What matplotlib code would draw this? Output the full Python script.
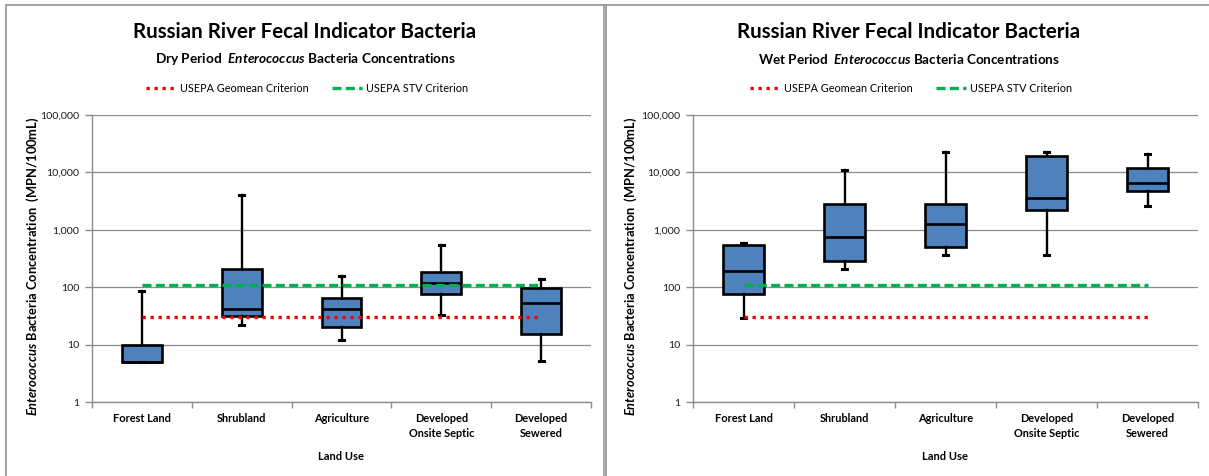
import matplotlib
matplotlib.use("Agg")
import matplotlib.pyplot as plt
from matplotlib.lines import Line2D
from matplotlib.ticker import FixedLocator, FuncFormatter, NullFormatter

# ---------------- data ----------------
categories = ["Forest Land", "Shrubland", "Agriculture",
              "Developed\nOnsite Septic", "Developed\nSewered"]

dry_min = [5, 22, 12, 33, 5.2]
dry_q1 = [5, 32, 20, 76, 15]
dry_med = [5, 42, 42, 120, 54]
dry_q3 = [10, 205, 64, 187, 96]
dry_max = [86, 4000, 159, 535, 139]

wet_min = [29.5, 210, 359, 369, 2560]
wet_q1 = [77, 282, 495, 2210, 4810]
wet_med = [192, 739, 1245, 3580, 6450]
wet_q3 = [536, 2780, 2780, 19600, 12100]
wet_max = [589, 10900, 22400, 23000, 21200]

geomean_criterion = 30
stv_criterion = 110

y_ticks = [1, 10, 100, 1000, 10000, 100000]

# ---------------- style ----------------
FONT = "Lato"
plt.rcParams["font.family"] = [FONT, "DejaVu Sans"]
plt.rcParams["mathtext.fontset"] = "custom"
plt.rcParams["mathtext.it"] = FONT + ":italic:bold"
plt.rcParams["mathtext.rm"] = FONT + ":bold"
plt.rcParams["mathtext.bf"] = FONT + ":bold"

W, H = 1209, 476
fig = plt.figure(figsize=(W / 100, H / 100), dpi=100)
fig.patch.set_facecolor("white")
renderer = fig.canvas.get_renderer()

BOX_FILL = "#4F81BD"
GRID = "#8C8C8C"
RED = "#FF0000"
GREEN = "#00B050"
BORDER = "#9A9A9A"


def fx(px):
    return px / W


def fy(py):
    return 1 - py / H


def fit_width(t, target):
    for _ in range(3):
        w = t.get_window_extent(renderer).width
        t.set_fontsize(t.get_fontsize() * target / w)


def fit_height(t, target):
    for _ in range(3):
        h = t.get_window_extent(renderer).height
        t.set_fontsize(t.get_fontsize() * target / h)


# font size calibration using probe texts
probe = fig.text(0, 0, "Forest Land", fontsize=9, fontweight="bold")
fit_width(probe, 58)
xtick_fs = probe.get_fontsize()
probe.set_text("100,000")
probe.set_fontweight("normal")
probe.set_fontsize(9)
fit_width(probe, 39)
ytick_fs = probe.get_fontsize()
probe.set_text("USEPA Geomean Criterion")
probe.set_fontsize(9)
fit_width(probe, 129)
leg_fs = probe.get_fontsize()
probe.set_text("Land Use")
probe.set_fontweight("bold")
probe.set_fontsize(9)
fit_width(probe, 46)
xlab_fs = probe.get_fontsize()
probe.remove()

panels = [
    dict(x0=6, ax_left=92, ax_w=499, center=305, period="Dry",
         stats=(dry_min, dry_q1, dry_med, dry_q3, dry_max), ylab_x=33),
    dict(x0=606, ax_left=693, ax_w=505, center=909, period="Wet",
         stats=(wet_min, wet_q1, wet_med, wet_q3, wet_max), ylab_x=631),
]

AX_TOP, AX_BOT = 115, 402
n = len(categories)
positions = [i + 0.5 for i in range(n)]

for p in panels:
    # panel border
    fig.add_artist(Line2D([fx(p["x0"]), fx(p["x0"])], [fy(5), fy(H + 5)],
                          transform=fig.transFigure, color=BORDER, lw=1.3))
    right = 604 if p["x0"] < 600 else W + 5
    fig.add_artist(Line2D([fx(p["x0"]), fx(right)], [fy(5), fy(5)],
                          transform=fig.transFigure, color=BORDER, lw=1.3))
    if p["x0"] < 600:
        fig.add_artist(Line2D([fx(603.5), fx(603.5)], [fy(5), fy(H + 5)],
                              transform=fig.transFigure, color=BORDER, lw=1.2))

    ax = fig.add_axes([fx(p["ax_left"]), fy(AX_BOT), fx(p["ax_w"]),
                       (AX_BOT - AX_TOP) / H])
    mn, q1, md, q3, mx = p["stats"]
    bstats = []
    for i in range(n):
        bstats.append(dict(whislo=mn[i], q1=q1[i], med=md[i], q3=q3[i],
                           whishi=mx[i], fliers=[], label=categories[i]))
    ax.bxp(bstats, positions=positions, widths=0.4, patch_artist=True,
           showfliers=False, capwidths=0.05,
           boxprops=dict(facecolor=BOX_FILL, edgecolor="black", linewidth=1.9),
           whiskerprops=dict(color="black", linewidth=1.7),
           capprops=dict(color="black", linewidth=2.2),
           medianprops=dict(color="black", linewidth=1.9),
           zorder=3)

    l1, = ax.plot([positions[0], positions[-1]],
                  [geomean_criterion, geomean_criterion],
                  color=RED, lw=2.4, linestyle=(0, (1, 1.4)), zorder=4,
                  label="USEPA Geomean Criterion")
    l2, = ax.plot([positions[0], positions[-1]],
                  [stv_criterion, stv_criterion],
                  color=GREEN, lw=2.4, linestyle=(0, (2.7, 1.3)), zorder=4,
                  label="USEPA STV Criterion")

    ax.set_yscale("log")
    ax.set_ylim(1, 100000)
    ax.set_xlim(0, n)
    ax.yaxis.set_major_locator(FixedLocator(y_ticks))
    ax.yaxis.set_minor_locator(FixedLocator([]))
    ax.yaxis.set_major_formatter(FuncFormatter(lambda v, _: f"{int(round(v)):,}"))
    ax.xaxis.set_major_locator(FixedLocator(list(range(n + 1))))
    ax.xaxis.set_major_formatter(NullFormatter())
    ax.xaxis.set_minor_locator(FixedLocator(positions))
    ax.set_xticklabels(categories, minor=True, fontweight="bold",
                       fontsize=xtick_fs, linespacing=1.4)
    ax.tick_params(axis="x", which="minor", length=0, pad=8)
    ax.tick_params(axis="x", which="major", length=4, width=1, color=GRID,
                   direction="out")
    ax.tick_params(axis="y", which="major", length=5, width=1, color=GRID,
                   direction="out", labelsize=ytick_fs, pad=4,
                   labelcolor="#1a1a1a")
    ax.grid(axis="y", which="major", color=GRID, lw=0.9, zorder=0)
    ax.set_axisbelow(True)
    for s in ["top", "right"]:
        ax.spines[s].set_visible(False)
    for s in ["left", "bottom"]:
        ax.spines[s].set_color(GRID)
        ax.spines[s].set_linewidth(1.0)

    # titles
    t1 = fig.text(fx(p["center"]), fy(32), "Russian River Fecal Indicator Bacteria",
                  ha="center", va="center", fontweight="bold", fontsize=16)
    fit_width(t1, 343)
    t2 = fig.text(fx(p["center"]), fy(59),
                  p["period"] + r" Period  $\mathit{Enterococcus}$ Bacteria Concentrations",
                  ha="center", va="center", fontweight="bold", fontsize=11)
    fit_width(t2, 301)

    # legend
    ax.legend(handles=[l1, l2], loc="center", ncol=2, frameon=False,
              bbox_to_anchor=(fx(p["center"] + 2), fy(88)),
              bbox_transform=fig.transFigure, fontsize=leg_fs,
              handlelength=2.7, handletextpad=0.4, columnspacing=2.2)

    # axis titles
    fig.text(fx((p["ax_left"] * 2 + p["ax_w"]) / 2), fy(456), "Land Use",
             ha="center", va="center", fontweight="bold", fontsize=xlab_fs)
    yl = fig.text(fx(p["ylab_x"]), fy(266),
                  r"$\mathit{Enterococcus}$ Bacteria Concentration  (MPN/100mL)",
                  ha="center", va="center", rotation=90, fontweight="bold",
                  fontsize=9)
    fit_height(yl, 300)

fig.savefig("out.png", dpi=100, facecolor="white")
